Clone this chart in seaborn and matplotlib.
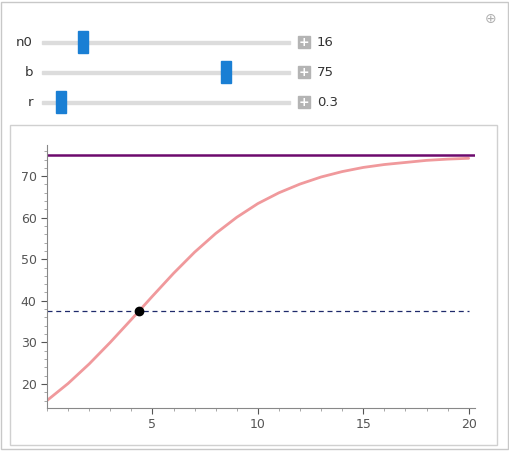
import numpy as np
import seaborn as sns
import matplotlib.pyplot as plt
from matplotlib.patches import Rectangle

sns.set_style("ticks")
plt.rcParams['font.family'] = ['DejaVu Sans']

# values
t = list(range(21))
n = [16.0, 20.1, 24.8, 30.0, 35.5, 41.1, 46.6, 51.7, 56.2, 60.1, 63.4,
     66.0, 68.1, 69.8, 71.1, 72.1, 72.8, 73.3, 73.8, 74.1, 74.3]
b_level = 75
half_level = 37.5
half_t = 4.35
sliders = [("n0", "16", 0.165), ("b", "75", 0.74), ("r", "0.3", 0.077)]

W, H = 509, 451
fig = plt.figure(figsize=(W / 100, H / 100), dpi=100)
fig.patch.set_facecolor("white")

def fx(px): return px / W
def fy(py): return 1 - py / H

# outer frame and plot panel
fig.patches.append(Rectangle((fx(1), fy(449)), fx(507), 447 / H, transform=fig.transFigure,
                             fill=False, edgecolor="#c8c8c8", lw=1, zorder=-2))
fig.patches.append(Rectangle((fx(10), fy(445)), fx(487), 320 / H, transform=fig.transFigure,
                             facecolor="white", edgecolor="#d0d0d0", lw=1, zorder=-1))

# sliders
for i, (lab, val, pos) in enumerate(sliders):
    yc = 42 + i * 30
    fig.text(fx(33), fy(yc), lab, ha="right", va="center", fontsize=9.5, color="#333333")
    x0, x1 = 42, 290
    fig.patches.append(Rectangle((fx(x0), fy(yc + 1.5)), fx(x1 - x0), 3 / H,
                                 transform=fig.transFigure, color="#dcdcdc"))
    hx = x0 + pos * (x1 - x0)
    fig.patches.append(Rectangle((fx(hx - 5), fy(yc + 11)), fx(10), 22 / H,
                                 transform=fig.transFigure, color="#1a7fd4"))
    fig.patches.append(Rectangle((fx(298), fy(yc + 6)), fx(12), 12 / H,
                                 transform=fig.transFigure, color="#b4b4b4"))
    fig.text(fx(304), fy(yc), "+", ha="center", va="center", fontsize=9, color="white",
             fontweight="bold")
    fig.text(fx(317), fy(yc), val, ha="left", va="center", fontsize=9.5, color="#333333")
fig.text(fx(491), fy(19), "\u2295", ha="center", va="center", fontsize=10, color="#b0b0b0")

ax = fig.add_axes([fx(47), fy(408), fx(428), (408 - 145) / H])
ax.set_facecolor("none")
sns.lineplot(x=t, y=n, ax=ax, color="#f0999c", lw=2)
ax.axhline(b_level, color="#6d0a6d", lw=1.8)
ax.axhline(half_level, color="#1f2a6b", lw=0.9, ls=(0, (4, 3)), xmax=0.985)
ax.plot([half_t], [half_level], "o", color="black", ms=6)
ax.set_xlim(0, 20.3)
ax.set_ylim(14.2, 77.5)
ax.set_xticks([5, 10, 15, 20])
ax.set_yticks([20, 30, 40, 50, 60, 70])
ax.set_xticks(np.arange(0, 20.5, 1), minor=True)
ax.set_yticks(np.arange(16, 77, 2), minor=True)
ax.tick_params(labelsize=9, colors="#555555", length=4)
ax.tick_params(which="minor", length=2, colors="#999999")
for s in ["top", "right"]:
    ax.spines[s].set_visible(False)
for s in ["left", "bottom"]:
    ax.spines[s].set_color("#888888")

fig.savefig("out.png", dpi=100)
